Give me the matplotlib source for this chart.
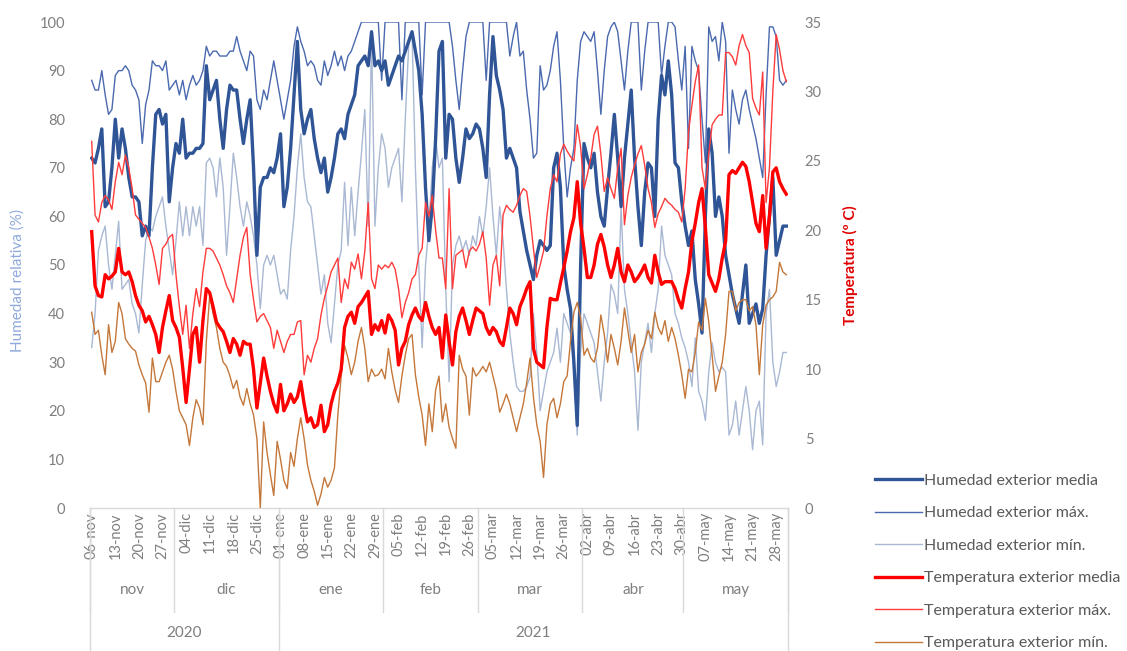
import numpy as np
import matplotlib
matplotlib.use("Agg")
import matplotlib.pyplot as plt
from matplotlib.lines import Line2D

plt.rcParams['font.family'] = ['Lato', 'DejaVu Sans']

# Daily series, 06-nov-2020 .. 31-may-2021 (207 days)
hum_media = [
    72, 71, 74, 78, 62, 63, 70, 80, 72, 78, 74, 68, 64, 64, 63, 56, 58, 56, 70, 81,
    82, 79, 81, 63, 70, 75, 73, 80, 72, 73, 73, 74, 74, 75, 91,
    84, 86, 88, 80, 74, 82, 87, 86, 86, 80, 75, 80, 84, 70, 52, 66, 68, 68, 70, 69,
    72, 77, 62, 66, 74, 85, 96, 82, 77, 80, 82, 76, 72, 69,
    72, 65, 68, 72, 77, 78, 76, 81, 83, 85, 91, 92, 93, 91, 98, 91, 92, 90, 92, 87,
    89, 91, 93, 92, 94, 96, 98, 94, 90, 81, 66, 55, 62, 76, 94,
    96, 72, 81, 80, 72, 67, 72, 78, 76, 77, 79, 78, 74, 68, 85, 97, 89, 86, 82, 72,
    74, 72, 70, 61, 57, 53, 50, 47, 52, 55, 54, 53, 54, 70,
    73, 66, 50, 45, 41, 30, 17, 50, 75, 72, 70, 73, 65, 60, 58, 66, 73, 81, 72, 62,
    72, 79, 86, 72, 62, 54, 65, 71, 70, 60, 80, 89, 85, 92,
    85, 71, 70, 63, 58, 54, 57, 47, 42, 36, 60, 78, 73, 60, 64, 60, 52, 48, 44, 41,
    38, 44, 50, 38, 40, 42, 38, 41, 52, 60, 68, 52, 55, 58, 58,
]
hum_max = [
    88, 86, 86, 90, 85, 81, 82, 89, 90, 90, 91, 90, 87, 86, 84, 75, 83, 86, 92, 91,
    91, 90, 92, 86, 87, 88, 85, 88, 84, 87, 89, 87, 88, 90, 95,
    93, 94, 94, 93, 93, 93, 94, 94, 97, 94, 92, 90, 94, 93, 84, 82, 86, 84, 88, 92,
    88, 84, 80, 84, 88, 95, 99, 96, 94, 91, 92, 91, 88, 87,
    92, 89, 91, 94, 91, 93, 90, 93, 94, 96, 98, 100, 100, 100, 100, 100, 100, 88, 100, 100,
    100, 100, 100, 84, 100, 100, 100, 100, 100, 85, 100, 100, 100, 100, 100,
    100, 100, 100, 95, 88, 82, 90, 97, 100, 100, 100, 100, 100, 88, 100, 100, 100, 100, 100, 100,
    93, 97, 100, 93, 94, 86, 80, 72, 73, 91, 86, 87, 90, 95,
    98, 88, 74, 64, 70, 74, 88, 96, 98, 97, 96, 98, 90, 81, 90, 97, 99, 100, 98, 92,
    86, 94, 100, 100, 100, 86, 94, 100, 100, 100, 100, 89, 95, 100,
    100, 99, 92, 86, 95, 74, 95, 92, 90, 80, 71, 99, 96, 97, 92, 100, 96, 73, 86, 82,
    79, 84, 86, 82, 79, 76, 72, 68, 85, 99, 99, 97, 88, 87, 88,
]
hum_min = [
    33, 40, 53, 56, 58, 50, 45, 52, 59, 45, 46, 47, 42, 40, 36, 46, 55, 58, 57, 60,
    62, 64, 58, 53, 48, 55, 63, 56, 62, 56, 62, 58, 62, 54, 71,
    72, 70, 64, 72, 66, 52, 62, 73, 68, 62, 58, 63, 60, 56, 50, 41, 50, 52, 50, 52,
    48, 44, 45, 43, 53, 60, 70, 77, 68, 63, 62, 56, 50, 44,
    48, 38, 34, 42, 50, 53, 67, 54, 66, 56, 65, 73, 82, 58, 97, 58, 70, 77, 74, 66,
    70, 72, 74, 63, 80, 95, 98, 70, 50, 33, 50, 58, 70, 76, 70,
    72, 45, 26, 50, 54, 56, 53, 55, 52, 56, 54, 60, 56, 62, 70, 60, 52, 62, 55, 45,
    36, 30, 25, 24, 24, 25, 27, 40, 32, 20, 24, 28, 30, 32,
    37, 30, 40, 38, 36, 28, 15, 32, 40, 38, 36, 34, 28, 22, 30, 36, 46, 44, 40, 62,
    45, 40, 34, 28, 16, 30, 34, 38, 32, 40, 45, 58, 52, 50,
    48, 40, 38, 35, 33, 30, 25, 35, 24, 22, 18, 28, 34, 30, 28, 29, 28, 15, 17, 22,
    15, 20, 25, 20, 12, 20, 22, 13, 40, 45, 30, 25, 28, 32, 32,
]
temp_media = [
    19.9, 16.0, 15.3, 15.2, 16.8, 16.5, 16.7, 17.0, 18.7, 17.0, 16.8, 17.0, 16.3, 15.3, 14.6,
    14.2, 13.4, 13.8, 13.2, 12.5, 11.2, 13.0, 14.2, 15.3, 13.5, 13.0, 12.3, 10.1, 7.6, 10.0,
    12.5, 13.0, 10.5, 13.5, 15.8,
    15.5, 14.5, 13.4, 13.0, 12.7, 12.0, 11.2, 12.2, 11.8, 11.0, 12.0, 11.8, 11.8, 10.0, 7.2,
    9.0, 10.8, 9.5, 8.4, 7.5, 6.9, 8.9, 7.0, 7.5, 8.2, 7.6, 8.0, 9.1, 7.5, 6.2,
    6.5, 5.8, 6.0, 7.4,
    5.5, 6.0, 7.5, 8.4, 9.0, 10.0, 13.0, 13.8, 14.1, 13.3, 14.5, 14.8, 15.2, 15.6, 12.5,
    13.2, 12.8, 13.5, 12.6, 13.9, 13.5, 12.8, 10.3, 11.5, 12.0, 13.2, 13.9, 14.4, 13.8, 13.5,
    14.8, 13.8, 13.0, 12.5, 13.0,
    10.8, 13.9, 12.0, 10.3, 12.7, 13.8, 14.4, 13.5, 12.5, 13.5, 14.4, 14.2, 14.0, 13.0, 12.5,
    13.0, 12.7, 12.0, 11.7, 13.0, 14.4, 14.0, 13.2, 14.5, 15.1, 15.8, 16.3, 11.5, 10.5, 10.3,
    10.1, 13.0, 15.1, 15.0,
    15.0, 16.2, 17.3, 18.5, 19.9, 20.9, 23.5, 20.5, 18.7, 16.6, 16.6, 17.5, 19.0, 19.7, 18.8,
    17.5, 16.6, 17.5, 18.7, 17.0, 16.3, 17.5, 17.0, 16.3, 16.6, 17.0, 17.5, 16.6, 16.2, 18.2,
    17.0, 16.1, 16.3, 16.3,
    16.3, 15.8, 15.0, 14.4, 15.8, 17.0, 19.2, 20.5, 22.0, 23.0, 20.2, 16.8, 16.2, 15.6, 16.5,
    18.0, 19.2, 24.0, 24.3, 24.1, 24.5, 24.9, 24.6, 23.5, 22.0, 20.5, 19.9, 22.5, 18.7, 21.0,
    24.2, 24.5, 23.5, 23.0, 22.6,
]
temp_max = [
    26.4, 21.1, 20.6, 22.0, 22.5, 22.2, 21.5, 23.5, 24.9, 24.0, 25.4, 24.5, 23.0, 21.1, 20.8,
    20.5, 20.2, 19.5, 18.7, 17.5, 16.1, 18.7, 19.0, 19.5, 19.7, 16.8, 14.5, 12.5, 14.6, 11.5,
    14.0, 15.8, 14.5, 17.0, 18.7,
    18.7, 18.5, 18.0, 17.5, 16.8, 16.0, 15.5, 14.8, 16.5, 18.2, 19.5, 20.2, 16.8, 15.0, 13.4,
    13.8, 14.0, 13.5, 13.0, 11.5, 12.8, 12.0, 11.2, 12.0, 12.5, 12.5, 13.4, 13.5, 9.6, 11.0,
    10.5, 11.5, 12.2, 13.9,
    15.1, 16.0, 17.0, 17.5, 18.0, 14.8, 16.5, 15.8, 17.7, 17.2, 18.3, 16.5, 18.5, 22.0, 16.5,
    15.8, 17.5, 17.2, 17.5, 17.3, 17.7, 17.2, 15.8, 13.7, 14.8, 15.5, 16.5, 16.8, 18.2, 18.7,
    22.0, 21.0, 22.5, 20.0, 18.0,
    18.0, 15.8, 23.0, 15.8, 18.2, 18.4, 18.6, 17.3, 18.5, 18.8, 18.5, 19.0, 19.9, 18.0, 14.6,
    17.5, 18.2, 16.0, 21.1, 21.8, 21.5, 21.3, 21.8, 22.5, 23.0, 22.8, 21.0, 18.7, 16.6, 17.5,
    18.5, 21.0, 23.0, 24.0,
    23.5, 25.5, 26.2, 25.7, 25.3, 25.0, 27.6, 26.0, 23.0, 24.0, 25.2, 26.9, 27.5, 25.5, 22.8,
    23.8, 23.0, 22.3, 24.5, 25.9, 20.4, 22.5, 23.8, 24.7, 25.5, 26.1, 24.7, 23.0, 22.0, 20.2,
    21.2, 21.7, 22.3, 22.0,
    21.8, 21.5, 21.3, 20.6, 23.0, 27.1, 29.0, 30.7, 31.9, 24.5, 23.0, 25.5, 27.6, 28.0, 28.3,
    28.3, 32.8, 32.8, 32.5, 31.9, 33.3, 34.1, 33.3, 32.8, 29.5, 28.8, 28.3, 31.4, 22.0, 24.5,
    30.0, 34.1, 33.0, 31.5, 30.7,
]
temp_min = [
    14.1, 12.5, 12.8, 11.0, 9.6, 13.2, 11.2, 12.0, 14.8, 14.0, 12.2, 11.8, 11.5, 11.3, 10.3,
    9.6, 9.0, 6.9, 10.8, 9.1, 9.1, 9.8, 10.5, 11.0, 10.0, 8.4, 7.0, 6.5, 6.0, 4.5,
    6.5, 7.8, 7.2, 6.0, 12.0,
    15.3, 14.0, 13.0, 11.5, 10.5, 10.2, 9.5, 8.6, 9.2, 8.0, 7.4, 8.6, 7.5, 6.7, 5.0,
    0.0, 6.2, 4.0, 2.4, 0.9, 4.8, 3.5, 2.0, 1.4, 4.0, 3.0, 5.0, 6.5, 5.0, 3.1,
    2.0, 1.2, 0.2, 1.0,
    2.2, 1.5, 2.0, 2.9, 6.7, 9.5, 11.7, 10.8, 9.6, 10.5, 12.0, 13.0, 11.5, 9.1, 10.0,
    9.5, 9.6, 10.0, 9.3, 11.5, 9.8, 8.5, 7.6, 9.5, 11.0, 12.2, 12.5, 9.6, 8.0, 6.7,
    4.5, 7.5, 5.5, 8.5, 9.5,
    6.2, 7.5, 5.8, 5.0, 4.3, 11.0, 10.0, 9.5, 6.7, 10.1, 9.5, 9.8, 10.2, 9.8, 10.5,
    9.5, 8.5, 6.9, 7.5, 8.2, 7.5, 6.5, 5.5, 6.5, 7.5, 9.0, 10.8, 8.0, 6.0, 4.8,
    2.2, 6.0, 7.5, 7.9,
    6.5, 7.5, 9.1, 9.5, 12.0, 14.1, 14.8, 13.7, 11.0, 11.5, 10.8, 10.5, 11.5, 13.9, 12.5,
    10.5, 12.5, 11.5, 10.3, 12.0, 14.4, 12.8, 11.2, 12.5, 9.8, 11.2, 11.8, 12.8, 12.2, 14.1,
    13.0, 12.5, 13.5, 12.0,
    13.0, 12.2, 11.0, 9.6, 7.9, 10.0, 9.8, 11.2, 13.4, 12.8, 15.1, 13.4, 11.0, 8.4, 9.5,
    10.5, 12.5, 15.6, 15.6, 14.2, 14.8, 15.0, 15.0, 14.2, 14.5, 13.2, 9.6, 13.2, 14.6, 15.0,
    15.2, 15.6, 17.7, 17.0, 16.8,
]

# Category axis
week_labels = [
    "06-nov", "13-nov", "20-nov", "27-nov", "04-dic", "11-dic", "18-dic", "25-dic",
    "01-ene", "08-ene", "15-ene", "22-ene", "29-ene", "05-feb", "12-feb", "19-feb",
    "26-feb", "05-mar", "12-mar", "19-mar", "26-mar", "02-abr", "09-abr", "16-abr",
    "23-abr", "30-abr", "07-may", "14-may", "21-may", "28-may",
]
months = ["nov", "dic", "ene", "feb", "mar", "abr", "may"]
month_days = [25, 31, 31, 28, 31, 30, 31]
years = ["2020", "2021"]
year_months = [2, 5]

series_labels = [
    "Humedad exterior media", "Humedad exterior máx.", "Humedad exterior mín.",
    "Temperatura exterior media", "Temperatura exterior máx.", "Temperatura exterior mín.",
]

C_HMED = "#2F5597"
C_HMAX = "#4A69AE"
C_HMIN = "#A9B8D3"
C_TMED = "#FF0000"
C_TMAX = "#FF3B3B"
C_TMIN = "#C4773A"
GREY = "#7F7F7F"
SEP = "#D9D9D9"

n = len(hum_media)
x = np.arange(n)

fig = plt.figure(figsize=(11.27, 6.51), dpi=100)
ax = fig.add_axes([90 / 1127, 1 - 508 / 651, 698 / 1127, 486 / 651])
ax2 = ax.twinx()

h2, = ax.plot(x, hum_max, color=C_HMAX, lw=1.0, zorder=2)
h3, = ax.plot(x, hum_min, color=C_HMIN, lw=1.0, zorder=2)
h1, = ax.plot(x, hum_media, color=C_HMED, lw=2.4, zorder=3)
t2, = ax2.plot(x, temp_max, color=C_TMAX, lw=1.0, zorder=2)
t3, = ax2.plot(x, temp_min, color=C_TMIN, lw=1.0, zorder=2)
t1, = ax2.plot(x, temp_media, color=C_TMED, lw=2.4, zorder=3)

ax.set_xlim(-0.5, n - 0.5)
ax.set_ylim(0, 100)
ax2.set_ylim(0, 35)
ax.set_yticks(np.arange(0, 101, 10))
ax2.set_yticks(np.arange(0, 36, 5))

for a in (ax, ax2):
    for s in ("top", "left", "right", "bottom"):
        a.spines[s].set_visible(False)
    a.tick_params(axis="y", length=0, labelsize=10.5, labelcolor=GREY)
ax.tick_params(axis="y", pad=18)
ax2.tick_params(axis="y", pad=12)

ax.set_xticks(np.arange(0, n, 7))
ax.set_xticklabels(week_labels, rotation=90, fontsize=10.5, color=GREY)
ax.tick_params(axis="x", length=0, pad=3)

# Bottom axis line and multi-level category separators
trans = ax.get_xaxis_transform()
ax.plot([-0.5, n - 0.5], [0, 0], color=SEP, lw=1, transform=trans, clip_on=False)
edges = np.concatenate([[0], np.cumsum(month_days)]) - 0.5
for e in edges:
    ax.plot([e, e], [0, -0.214], color=SEP, lw=1, transform=trans, clip_on=False)
for i, m in enumerate(months):
    ax.text((edges[i] + edges[i + 1]) / 2, -0.169, m, transform=trans,
            ha="center", va="center", fontsize=11, color=GREY)
yedges = [edges[0]] + [edges[k] for k in np.cumsum(year_months)]
for e in yedges:
    ax.plot([e, e], [0, -0.30], color=SEP, lw=1, transform=trans, clip_on=False)
for i, yv in enumerate(years):
    ax.text((yedges[i] + yedges[i + 1]) / 2, -0.257, yv, transform=trans,
            ha="center", va="center", fontsize=11, color=GREY)

fig.text(18 / 1127, 1 - 280 / 651, "Humedad relativa (%)", rotation=90,
         ha="center", va="center", fontsize=11, color="#8EA9DB")
fig.text(850 / 1127, 1 - 265 / 651, "Temperatura (º C)", rotation=90,
         ha="center", va="center", fontsize=11, color="#E00000", fontweight="bold")

handles = [h1, h2, h3, t1, t2, t3]
handles = [Line2D([], [], color=h.get_color(), lw=h.get_linewidth()) for h in handles]
fig.legend(handles, series_labels, loc="upper left",
           bbox_to_anchor=(869 / 1127, 1 - 467 / 651), frameon=False,
           fontsize=11.5, labelcolor="#595959", handlelength=2.9,
           handletextpad=0.15, labelspacing=1.15, borderaxespad=0)

fig.savefig("out.png", dpi=100)
